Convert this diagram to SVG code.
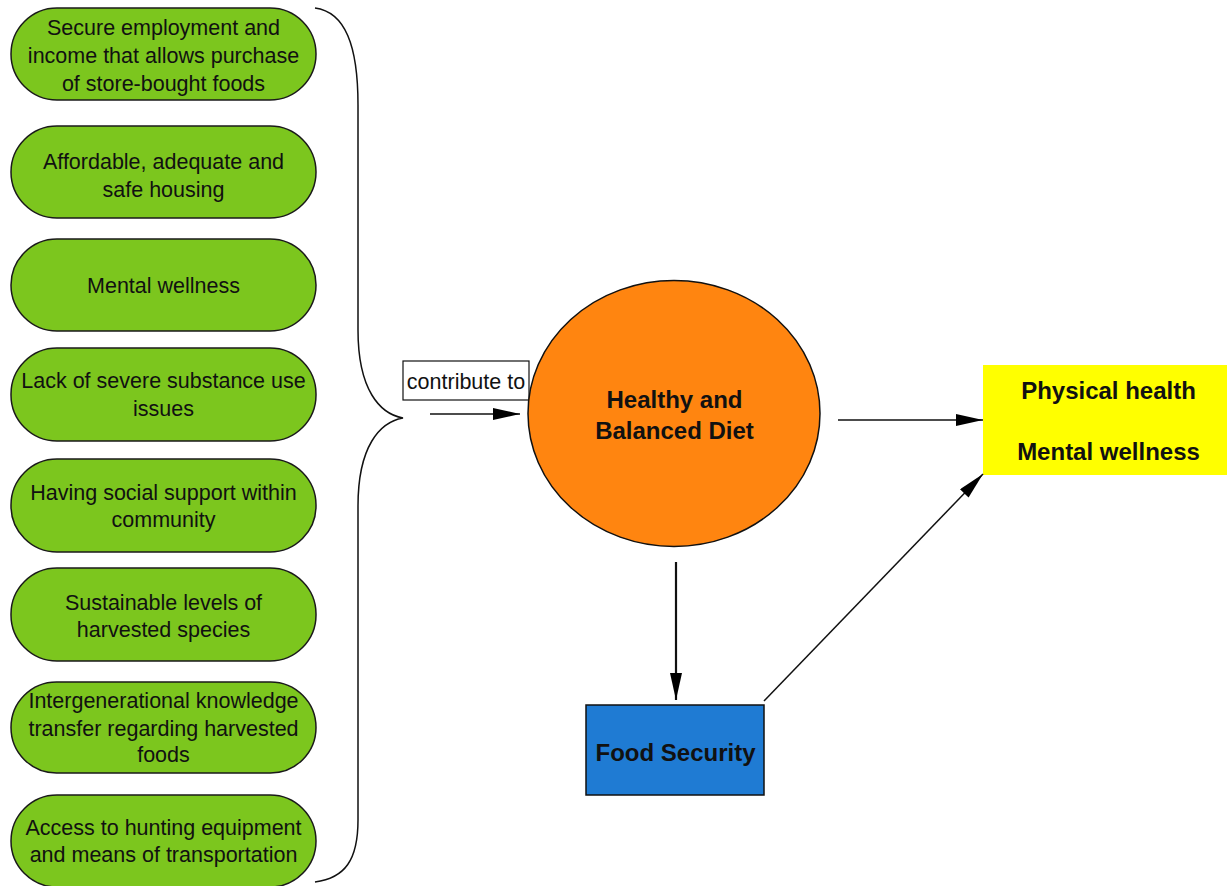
<svg xmlns="http://www.w3.org/2000/svg" width="1227" height="886" viewBox="0 0 1227 886">
<style>
.pill{fill:#7cc61e;stroke:#1a1a1a;stroke-width:1.5}
.t{font-family:"Liberation Sans",Arial,sans-serif;font-size:21.5px;fill:#111;text-anchor:middle}
.b{font-family:"Liberation Sans",Arial,sans-serif;font-size:24px;font-weight:bold;fill:#111;text-anchor:middle}
.ln{fill:none;stroke:#111;stroke-width:1.5}
</style>
<defs>
<marker id="ah" markerWidth="27" markerHeight="12" refX="27" refY="6" orient="auto" markerUnits="userSpaceOnUse">
<path d="M0,0 L27,6 L0,12 Z" fill="#000"/>
</marker>
</defs>
<rect width="1227" height="886" fill="#fff"/>
<g id="n1"><rect class="pill" x="11" y="8" width="305" height="92" rx="46"/>
<text class="t" x="163.5" y="35">Secure employment and</text><text class="t" x="163.5" y="63">income that allows purchase</text><text class="t" x="163.5" y="91">of store-bought foods</text></g>
<g id="n2"><rect class="pill" x="11" y="126" width="305" height="92" rx="46"/>
<text class="t" x="163.5" y="169">Affordable, adequate and</text><text class="t" x="163.5" y="196.5">safe housing</text></g>
<g id="n3"><rect class="pill" x="11" y="239" width="305" height="92" rx="46"/>
<text class="t" x="163.5" y="293">Mental wellness</text></g>
<g id="n4"><rect class="pill" x="11" y="348" width="305" height="93" rx="46"/>
<text class="t" x="163.5" y="388">Lack of severe substance use</text><text class="t" x="163.5" y="416">issues</text></g>
<g id="n5"><rect class="pill" x="11" y="459" width="305" height="93" rx="46"/>
<text class="t" x="163.5" y="500">Having social support within</text><text class="t" x="163.5" y="527">community</text></g>
<g id="n6"><rect class="pill" x="11" y="568" width="305" height="93" rx="46"/>
<text class="t" x="163.5" y="610">Sustainable levels of</text><text class="t" x="163.5" y="637">harvested species</text></g>
<g id="n7"><rect class="pill" x="11" y="682" width="305" height="91" rx="45.5"/>
<text class="t" x="163.5" y="708">Intergenerational knowledge</text><text class="t" x="163.5" y="736">transfer regarding harvested</text><text class="t" x="163.5" y="762">foods</text></g>
<g id="n8"><rect class="pill" x="11" y="795" width="305" height="92" rx="46"/>
<text class="t" x="163.5" y="835">Access to hunting equipment</text><text class="t" x="163.5" y="862">and means of transportation</text></g>
<g id="brace"><path class="ln" d="M315,8 C345,12 358,45 358,105 L358,330 C358,390 380,414 403,418 C380,422 358,446 358,506 L358,820 C358,860 345,878 315,882"/></g>
<g id="label"><rect x="403" y="361" width="126" height="39" fill="#fff" stroke="#111" stroke-width="1.2"/>
<text class="t" x="466" y="389">contribute to</text></g>
<g id="diet"><ellipse cx="674" cy="413.5" rx="146" ry="133" fill="#ff8510" stroke="#111" stroke-width="1.5"/>
<text class="b" x="674.5" y="408">Healthy and</text><text class="b" x="674.5" y="439">Balanced Diet</text></g>
<g id="outcome"><rect x="983" y="365" width="244" height="110" fill="#ffff00"/>
<text class="b" x="1108.5" y="399">Physical health</text><text class="b" x="1108.5" y="460">Mental wellness</text></g>
<g id="food"><rect x="586" y="705" width="178" height="90" fill="#1f7bd3" stroke="#111" stroke-width="1.5"/>
<text class="b" x="675.5" y="761">Food Security</text></g>
<g id="connectors">
<line class="ln" x1="430" y1="414" x2="520" y2="414" marker-end="url(#ah)"/>
<line class="ln" x1="838" y1="420" x2="983" y2="420" marker-end="url(#ah)"/>
<line x1="676" y1="562" x2="676" y2="700" stroke="#111" stroke-width="2.2" marker-end="url(#ah)"/>
<line class="ln" x1="764" y1="701" x2="983" y2="474" marker-end="url(#ah)"/>
</g>
</svg>
